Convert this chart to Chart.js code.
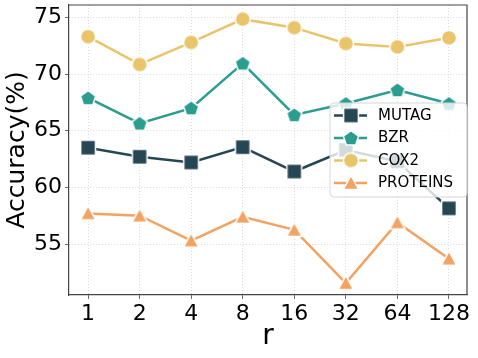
<!DOCTYPE html>
<html>
<head>
<meta charset="utf-8">
<script src="https://cdn.jsdelivr.net/npm/chart.js@4.4.0/dist/chart.umd.min.js"></script>
<style>
  html, body { margin: 0; padding: 0; background: #fff; }
</style>
</head>
<body>
<canvas id="chart" width="478" height="358"></canvas>
<script>
// values
const rValues = ["1", "2", "4", "8", "16", "32", "64", "128"];
const mutag = [63.5, 62.7, 62.2, 63.55, 61.4, 63.3, 62.3, 58.15];
const bzr = [67.9, 65.65, 67.0, 70.95, 66.4, 67.4, 68.6, 67.4];
const cox2 = [73.3, 70.85, 72.8, 74.85, 74.1, 72.7, 72.4, 73.2];
const proteins = [57.7, 57.5, 55.3, 57.4, 56.25, 51.55, 56.9, 53.7];
const yTicks = [55, 60, 65, 70, 75];

const FONT = "'DejaVu Sans', sans-serif";

// small canvases used as point styles (white edge like matplotlib)
function marker(shape, color) {
  const c = document.createElement("canvas");
  c.width = 22; c.height = 22;
  const g = c.getContext("2d");
  const m = 11;
  g.beginPath();
  if (shape === "square") {
    g.rect(m - 7.4, m - 7.4, 14.8, 14.8);
  } else if (shape === "circle") {
    g.arc(m, m, 7.6, 0, Math.PI * 2);
  } else if (shape === "triangle") {
    g.moveTo(m, m - 7.6);
    g.lineTo(m + 7.6, m + 6.4);
    g.lineTo(m - 7.6, m + 6.4);
    g.closePath();
  } else if (shape === "pentagon") {
    const r = 8;
    for (let k = 0; k < 5; k++) {
      const a = -Math.PI / 2 + k * 2 * Math.PI / 5;
      const px = m + r * Math.cos(a), py = m + 0.6 + r * Math.sin(a);
      if (k === 0) g.moveTo(px, py); else g.lineTo(px, py);
    }
    g.closePath();
  }
  g.fillStyle = color;
  g.fill();
  g.lineWidth = 1.5;
  g.strokeStyle = "#ffffff";
  g.stroke();
  return c;
}

function series(label, values, color, shape) {
  return {
    label: label,
    data: values.map((v, i) => ({ x: i, y: v })),
    borderColor: color,
    backgroundColor: color,
    borderWidth: 2.5,
    pointStyle: marker(shape, color),
    pointRadius: 8,
    pointHoverRadius: 8,
    tension: 0
  };
}

const boxLegend = {
  id: "boxLegend",
  afterDatasetsDraw(chart) {
    const ctx = chart.ctx;
    ctx.save();
    const x = 330, y = 103, w = 137, h = 94, r = 4;
    ctx.beginPath();
    ctx.moveTo(x + r, y);
    ctx.arcTo(x + w, y, x + w, y + h, r);
    ctx.arcTo(x + w, y + h, x, y + h, r);
    ctx.arcTo(x, y + h, x, y, r);
    ctx.arcTo(x, y, x + w, y, r);
    ctx.closePath();
    ctx.fillStyle = "rgba(255,255,255,0.8)";
    ctx.fill();
    ctx.lineWidth = 1;
    ctx.strokeStyle = "#d6d6d6";
    ctx.stroke();
    chart.data.datasets.forEach((ds, i) => {
      const cy = 115.5 + i * 22.5;
      ctx.beginPath();
      ctx.moveTo(334, cy);
      ctx.lineTo(367, cy);
      ctx.lineWidth = 2.5;
      ctx.strokeStyle = ds.borderColor;
      ctx.stroke();
      ctx.drawImage(ds.pointStyle, 351 - 11, cy - 11);
      ctx.fillStyle = "#000";
      ctx.font = "15px " + FONT;
      ctx.textBaseline = "middle";
      ctx.fillText(ds.label, 378, cy + 0.5);
    });
    ctx.restore();
  }
};

const frame = {
  id: "frame",
  beforeDatasetsDraw(chart) {
    const a = chart.chartArea, ctx = chart.ctx;
    ctx.save();
    ctx.strokeStyle = "#444";
    ctx.lineWidth = 1.2;
    ctx.beginPath();
    ctx.moveTo(a.left, a.top);
    ctx.lineTo(a.right, a.top);
    ctx.lineTo(a.right, a.bottom);
    ctx.stroke();
    ctx.restore();
  }
};

new Chart(document.getElementById("chart"), {
  type: "line",
  data: {
    datasets: [
      series("MUTAG", mutag, "#264653", "square"),
      series("BZR", bzr, "#2a9d8f", "pentagon"),
      series("COX2", cox2, "#e9c46a", "circle"),
      series("PROTEINS", proteins, "#f4a261", "triangle")
    ]
  },
  options: {
    responsive: false,
    animation: false,
    devicePixelRatio: 1,
    layout: { autoPadding: false, padding: { top: 5, right: 11, left: 0, bottom: 0 } },
    plugins: { legend: { display: false }, tooltip: { enabled: false } },
    scales: {
      x: {
        type: "linear",
        min: -0.37,
        max: 7.35,
        afterBuildTicks: (s) => { s.ticks = rValues.map((_, i) => ({ value: i })); },
        afterFit: (s) => { s.height = 63; s.paddingLeft = 0; s.paddingRight = 0; },
        ticks: {
          callback: (v) => rValues[v],
          font: { family: FONT, size: 22 },
          color: "#000",
          padding: 2,
          maxRotation: 0,
          autoSkip: false
        },
        grid: { color: "rgba(170,170,170,0.55)", tickColor: "#444", tickLength: 4, lineWidth: 0.8 },
        border: { color: "#444", width: 1.2, dash: [1, 2] },
        title: { display: true, text: "r", font: { family: FONT, size: 28 }, color: "#000", padding: { top: 0, bottom: 4 } }
      },
      y: {
        min: 50.5,
        max: 76.1,
        afterBuildTicks: (s) => { s.ticks = yTicks.map((v) => ({ value: v })); },
        afterFit: (s) => { s.width = 69; s.paddingTop = 0; s.paddingBottom = 0; },
        ticks: {
          font: { family: FONT, size: 22 },
          color: "#000",
          padding: 3
        },
        grid: { color: "rgba(170,170,170,0.55)", tickColor: "#444", tickLength: 4, lineWidth: 0.8 },
        border: { color: "#444", width: 1.2, dash: [1, 2] },
        title: { display: true, text: "Accuracy(%)", font: { family: FONT, size: 25 }, color: "#000", padding: { top: 2, bottom: 0 } }
      }
    }
  },
  plugins: [frame, boxLegend]
});
</script>
</body>
</html>
